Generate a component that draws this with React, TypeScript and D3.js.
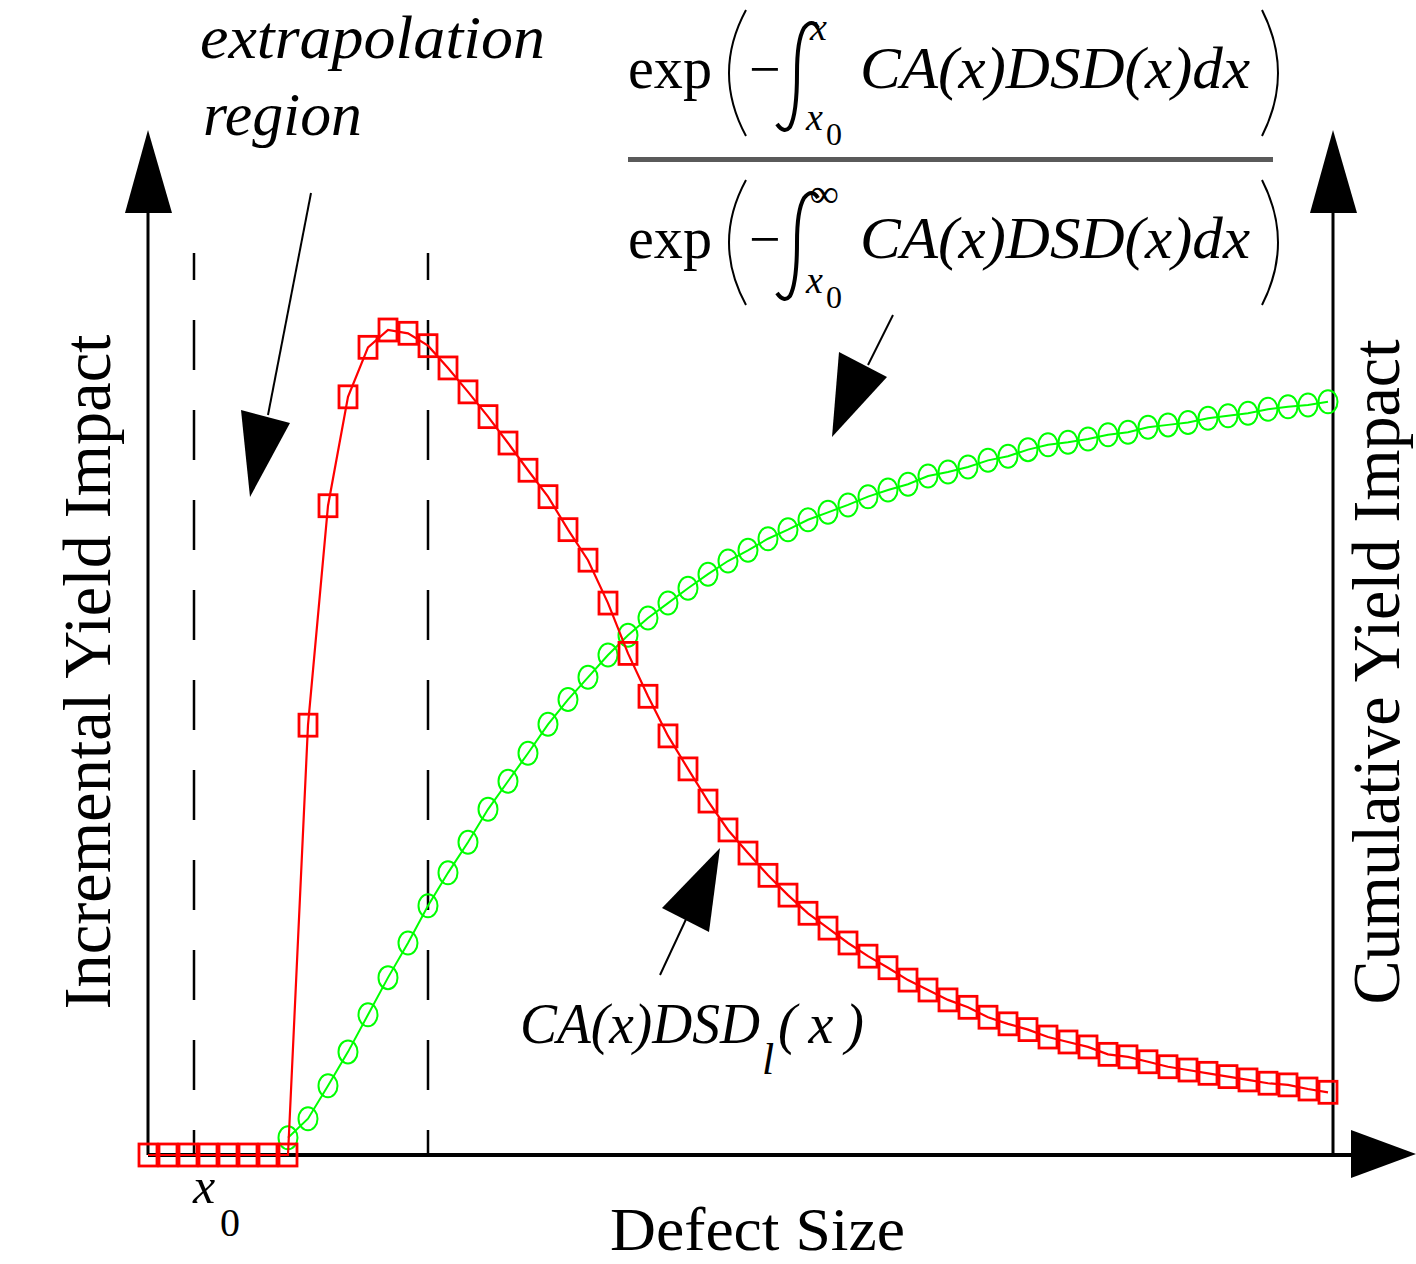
import React from 'react';
import * as d3 from 'd3';

// sampled curves, one value per defect-size bin (60 bins)
const incrementalYield = [
  0, 0, 0, 0, 0, 0, 0, 0,
  52.1, 78.7, 91.9, 97.9, 100, 99.6, 98.1, 95.4, 92.5, 89.5,
  86.3, 83.0, 79.8, 75.8, 72.1, 66.9, 60.8, 55.6, 50.8, 46.8,
  42.9, 39.4, 36.6, 33.9, 31.5, 29.3, 27.5, 25.7, 24.1, 22.7,
  21.2, 20.0, 18.8, 17.9, 16.7, 15.9, 15.2, 14.3, 13.7, 13.1,
  12.2, 11.9, 11.3, 10.7, 10.3, 9.9, 9.5, 9.1, 8.7, 8.5,
  8.0, 7.6,
];

const cumulativeYield = [
  null, null, null, null, null, null, null,
  0.021, 0.044, 0.084, 0.125, 0.170, 0.215, 0.257, 0.302, 0.342, 0.379,
  0.419, 0.453, 0.487, 0.522, 0.552, 0.579, 0.606, 0.630, 0.651, 0.669,
  0.687, 0.704, 0.720, 0.733, 0.747, 0.758, 0.770, 0.779, 0.788, 0.798,
  0.806, 0.813, 0.823, 0.828, 0.834, 0.842, 0.847, 0.855, 0.861, 0.864,
  0.868, 0.873, 0.876, 0.882, 0.885, 0.888, 0.893, 0.896, 0.899, 0.904,
  0.907, 0.909, 0.913,
];

// dashed markers: x0 and the end of the extrapolation region
const dashedMarkers = [2.3, 14];

const serif = '"Liberation Serif", "Times New Roman", serif';

export default function App() {
  const W = 1416;
  const H = 1264;

  const x = d3.scaleLinear().domain([0, incrementalYield.length - 1]).range([148, 1328]);
  const yLeft = d3.scaleLinear().domain([0, 100]).range([1155, 330]);
  const yRight = d3.scaleLinear().domain([0, 1]).range([1155, 330]);

  const redLine = d3.line<number>().x((_, i) => x(i)).y(d => yLeft(d))(incrementalYield);
  const greenPts = cumulativeYield
    .map((v, i) => ({ i, v }))
    .filter(d => d.v !== null) as { i: number; v: number }[];
  const greenLine = d3.line<{ i: number; v: number }>().x(d => x(d.i)).y(d => yRight(d.v))(greenPts);

  const axisTop = 130;
  const baseY = yLeft(0);
  const rightX = 1333;

  const arrowHead = (pts: number[][]) => pts.map(p => p.join(',')).join(' ');

  // annotation arrows: [line start, line end, head polygon]
  const annotations = [
    { line: [311, 193, 268, 415], head: [[241, 410], [290, 423], [250, 497]] },
    { line: [893, 315, 868, 365], head: [[839, 352], [887, 377], [832, 437]] },
    { line: [660, 975, 688, 915], head: [[662, 908], [709, 932], [720, 848]] },
  ];

  const fraction = (base: number, top: number, bot: number, upper: string, upperY: number, subY: number) => (
    <g>
      <text x={628} y={base} fontFamily={serif} fontSize={60} textLength={84} lengthAdjust="spacingAndGlyphs">exp</text>
      <path d={`M746,${top} Q712,${(top + bot) / 2} 746,${bot}`} fill="none" stroke="#000" strokeWidth={2} />
      <path d={`M1262,${top} Q1294,${(top + bot) / 2} 1262,${bot}`} fill="none" stroke="#000" strokeWidth={2} />
      <text x={749} y={base} fontFamily={serif} fontSize={56}>−</text>
      <path
        d={`M818,${top + 18} Q812,${top + 8} 804,${top + 18} Q797,${top + 30} 797,${(top + bot) / 2} Q797,${bot - 22} 790,${bot - 9} Q784,${bot - 2} 777,${bot - 12}`}
        fill="none" stroke="#000" strokeWidth={4}
      />
      <text x={810} y={upperY} fontFamily={serif} fontStyle="italic" fontSize={upper === '∞' ? 40 : 38}>{upper}</text>
      <text x={806} y={subY} fontFamily={serif} fontStyle="italic" fontSize={38}>x</text>
      <text x={826} y={subY + 15} fontFamily={serif} fontSize={32}>0</text>
      <text x={860} y={base} fontFamily={serif} fontStyle="italic" fontSize={60} textLength={390} lengthAdjust="spacingAndGlyphs">
        CA(x)DSD(x)dx
      </text>
    </g>
  );

  return (
    <svg width={W} height={H} style={{ position: 'absolute', left: 0, top: 0, background: '#fff' }}>
      <rect width={W} height={H} fill="#fff" />

      {/* dashed markers */}
      {dashedMarkers.map((m, k) => (
        <line key={k} x1={x(m)} x2={x(m)} y1={253} y2={baseY} stroke="#000" strokeWidth={2.5}
          strokeDasharray="50 40" strokeDashoffset={23} />
      ))}

      {/* axes */}
      <line x1={148} x2={148} y1={axisTop + 20} y2={baseY} stroke="#000" strokeWidth={3} />
      <polygon points={arrowHead([[148, axisTop], [125, 213], [172, 213]])} fill="#000" />
      <line x1={rightX} x2={rightX} y1={axisTop + 20} y2={baseY} stroke="#000" strokeWidth={3} />
      <polygon points={arrowHead([[rightX, axisTop], [1310, 213], [1357, 213]])} fill="#000" />
      <line x1={148} x2={1360} y1={baseY} y2={baseY} stroke="#000" strokeWidth={4} />
      <polygon points={arrowHead([[1351, 1130], [1351, 1178], [1416, 1154]])} fill="#000" />

      {/* green cumulative curve */}
      <path d={greenLine ?? ''} fill="none" stroke="#00ff00" strokeWidth={2} />
      {greenPts.map(d => (
        <ellipse key={d.i} cx={x(d.i)} cy={yRight(d.v)} rx={9.5} ry={11.5} fill="none" stroke="#00ff00" strokeWidth={2} />
      ))}

      {/* red incremental curve */}
      <path d={redLine ?? ''} fill="none" stroke="#ff0000" strokeWidth={2.2} />
      {incrementalYield.map((v, i) => (
        <rect key={i} x={x(i) - 9} y={yLeft(v) - 11} width={18} height={22} fill="none" stroke="#ff0000" strokeWidth={2.8} />
      ))}

      {/* annotation arrows */}
      {annotations.map((a, k) => (
        <g key={k}>
          <line x1={a.line[0]} y1={a.line[1]} x2={a.line[2]} y2={a.line[3]} stroke="#000" strokeWidth={2} />
          <polygon points={arrowHead(a.head)} fill="#000" />
        </g>
      ))}

      {/* labels */}
      <text x={200} y={58} fontFamily={serif} fontStyle="italic" fontSize={62} textLength={345} lengthAdjust="spacingAndGlyphs">
        extrapolation
      </text>
      <text x={203} y={135} fontFamily={serif} fontStyle="italic" fontSize={62} textLength={159} lengthAdjust="spacingAndGlyphs">
        region
      </text>

      {fraction(88, 10, 136, 'x', 40, 130)}
      <rect x={628} y={157} width={645} height={5} fill="#5a5a5a" />
      {fraction(258, 180, 305, '∞', 207, 293)}

      <text transform="translate(110,672) rotate(-90)" textAnchor="middle" fontFamily={serif} fontSize={68}
        textLength={675} lengthAdjust="spacingAndGlyphs">
        Incremental  Yield  Impact
      </text>
      <text transform="translate(1399,672) rotate(-90)" textAnchor="middle" fontFamily={serif} fontSize={68}
        textLength={665} lengthAdjust="spacingAndGlyphs">
        Cumulative  Yield  Impact
      </text>

      <text x={610} y={1250} fontFamily={serif} fontSize={62} textLength={295} lengthAdjust="spacingAndGlyphs">
        Defect Size
      </text>

      <text x={193} y={1203} fontFamily={serif} fontStyle="italic" fontSize={50}>x</text>
      <text x={220} y={1236} fontFamily={serif} fontSize={40}>0</text>

      <text x={520} y={1043} fontFamily={serif} fontStyle="italic" fontSize={56} textLength={240} lengthAdjust="spacingAndGlyphs">
        CA(x)DSD
      </text>
      <text x={762} y={1074} fontFamily={serif} fontStyle="italic" fontSize={44}>l</text>
      <text x={778} y={1043} fontFamily={serif} fontStyle="italic" fontSize={56} textLength={86} lengthAdjust="spacing">
        (x)
      </text>
    </svg>
  );
}
